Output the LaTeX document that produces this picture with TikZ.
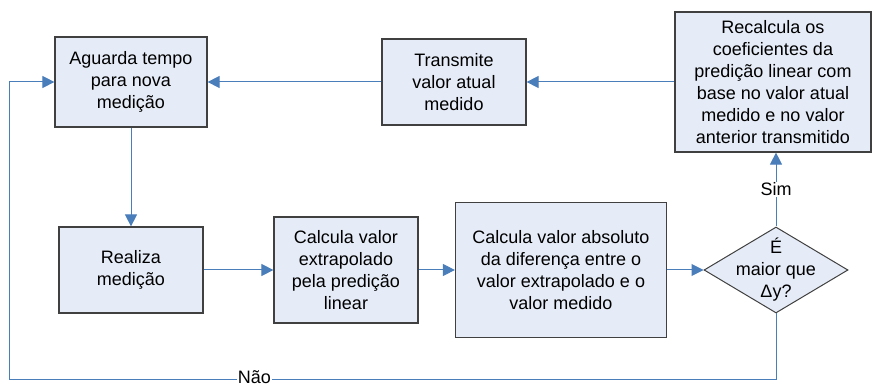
\documentclass[tikz,border=0pt]{standalone}
\usepackage{fontspec}
\setmainfont{Liberation Sans}
\usepackage{tikz}
\usetikzlibrary{arrows.meta,shapes.geometric}
\definecolor{boxfill}{RGB}{230,236,247}
\definecolor{boxline}{RGB}{64,64,64}
\definecolor{flow}{RGB}{74,126,187}

\begin{document}
\begin{tikzpicture}[x=1pt,y=-1pt,
	font=\fontsize{18}{22}\selectfont,
	box/.style={draw=boxline,fill=boxfill,line width=1.2pt,align=center,inner sep=0pt},
	choice/.style={diamond,draw=boxline,fill=boxfill,line width=1pt,inner sep=0pt,
		minimum width=144pt,minimum height=86pt},
	flowline/.style={color=flow,line width=1pt,-{Triangle[length=12pt,width=12pt]}},
	tag/.style={fill=white,text=black,inner sep=1pt}]
	\useasboundingbox (0,0) rectangle (873,387);
	% nodes
	\node[box,minimum width=152pt,minimum height=90pt] (Ag) at (131,82) {Aguarda tempo\\para nova\\medição};
	\node[box,minimum width=144pt,minimum height=86pt] (Tr) at (454,82) {Transmite\\valor atual\\medido};
	\node[box,minimum width=196pt,minimum height=140pt] (Rc) at (773,82) {Recalcula os\\coeficientes da\\predição linear com\\base no valor atual\\medido e no valor\\anterior transmitido};
	\node[box,minimum width=144pt,minimum height=86pt] (Re) at (131,270) {Realiza\\medição};
	\node[box,minimum width=144pt,minimum height=106pt] (Ex) at (346,270) {Calcula valor\\extrapolado\\pela predição\\linear};
	\node[box,minimum width=211pt,minimum height=135pt] (Di) at (561,270) {Calcula valor absoluto\\da diferença entre o\\valor extrapolado e o\\valor medido};
	\node[choice] (Q) at (776,270) {};
	\node[align=center] (Qt) at (Q) {É\\maior que\\Δy?};
	\coordinate (loop) at (9,379);
	%
	\path[flowline]
	% top row
	(Rc) edge (Tr)
	(Tr) edge (Ag)
	(Ag) edge (Re)
	% bottom row
	(Re) edge (Ex)
	(Ex) edge (Di)
	(Di) edge (Q)
	(Q.north) edge node[tag]{Sim} (Q.north |- Rc.south);
	% back to the start
	\draw[flowline] (Q.south) |- node[tag,pos=0.84,yshift=1.5pt]{Não} (loop) |- (Ag.west);
\end{tikzpicture}
\end{document}
